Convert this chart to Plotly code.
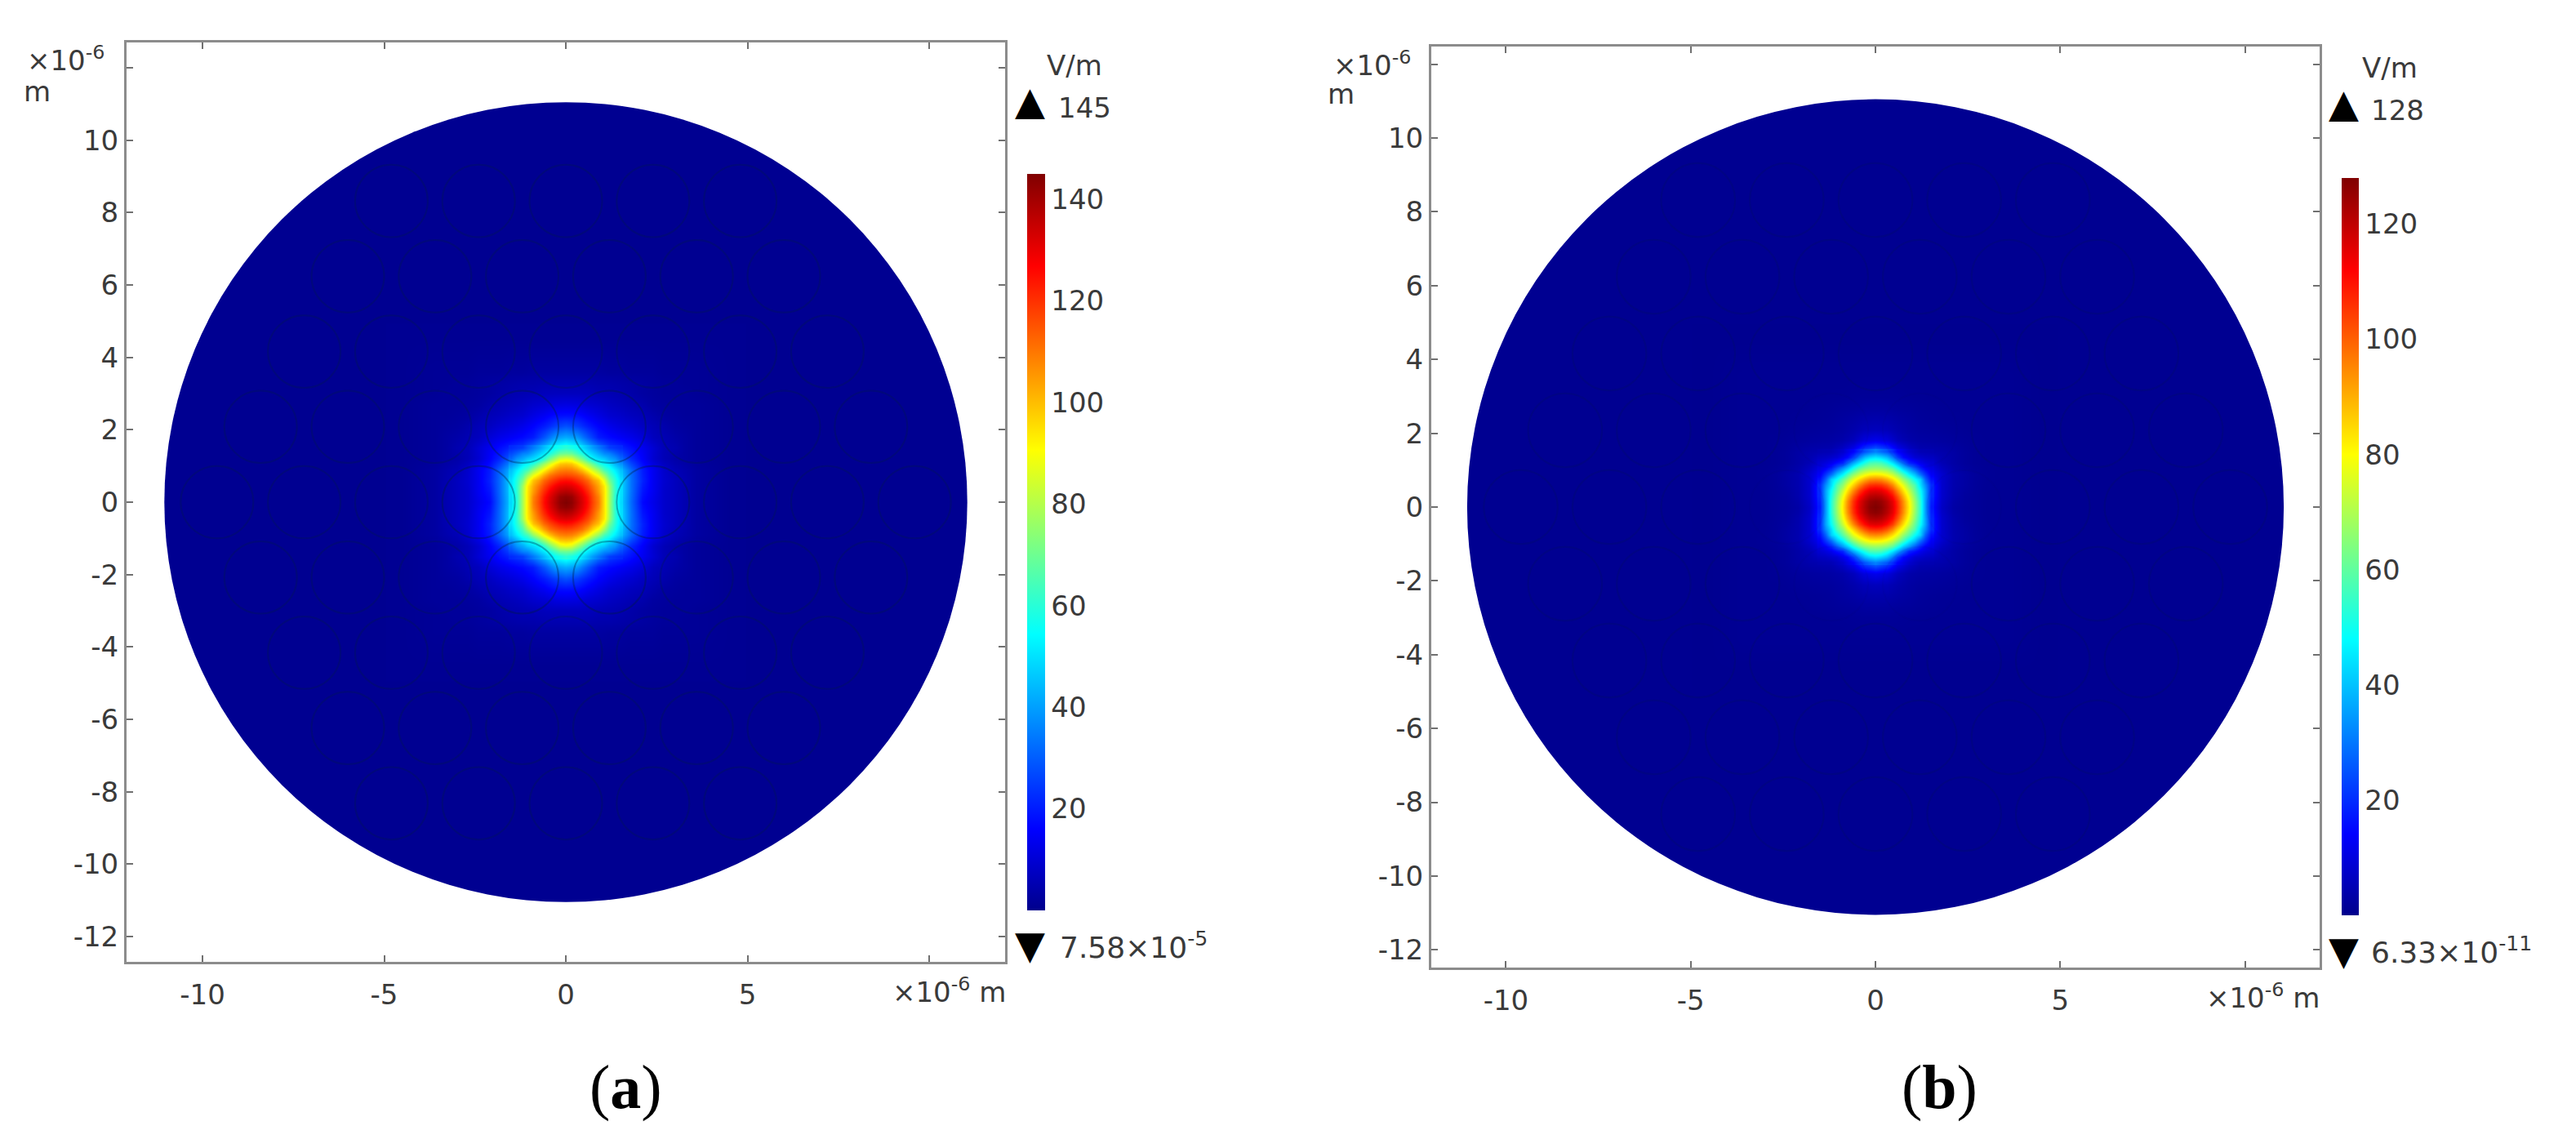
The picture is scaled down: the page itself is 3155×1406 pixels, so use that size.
import numpy as np
import plotly.graph_objects as go

W = 3155
H = 1406

# |E| in V/m on one quadrant (x to the right, y upward, um)
grid_pos = [0, 0.3, 0.6, 0.9, 1.2, 1.5, 1.8, 2.1, 2.4, 2.7, 3.0, 3.3, 3.6, 4.5]

field_a = [
    [145, 138, 125, 109, 78, 49, 32, 17, 13, 9, 7, 5, 3, 1],
    [138, 133, 121, 105, 78, 50, 33, 19, 14, 9, 7, 5, 3, 1],
    [125, 121, 112, 99, 71, 50, 33, 21, 14, 9.5, 7, 5, 3, 1],
    [109, 105, 91, 75, 59, 45, 32, 20, 14, 9, 6, 4.5, 3, 1],
    [88, 79, 61, 50, 42, 32, 22, 15.5, 9.5, 6, 4, 3, 2, 1],
    [60, 55, 44, 34, 25, 22, 18, 14, 10, 6, 5, 3, 2, 1],
    [42, 39, 29, 20, 17, 15, 13, 10.5, 7, 5.5, 4, 3, 2, 1],
    [28, 25, 20, 16, 13, 11, 9.5, 7.5, 6, 4.5, 3, 2.5, 2, 1],
    [18, 17.5, 14.5, 12, 9.5, 8.5, 7, 6, 4.5, 3, 2.5, 2, 2, 1],
    [12, 11.5, 10, 9, 7.5, 6.5, 5.5, 4.5, 3, 2.5, 2, 2, 2, 1],
    [7, 7, 6.7, 6, 5.5, 5, 4, 3, 2.5, 2, 2, 2, 1.5, 1],
    [5, 5, 5, 4.5, 4.5, 4, 3.5, 3, 2.5, 2, 2, 1.5, 1.5, 1],
    [3, 3, 3, 3, 2.5, 2.5, 2, 2, 2, 1.5, 1.5, 1.5, 1.5, 1],
    [1, 1, 1, 1, 1, 1, 1, 1, 1, 1, 1, 1, 1, 1],
]

field_b = [
    [128, 122, 107, 82, 53, 17, 7, 3.2, 2, 1.5, 1, 1, 1, 0.5],
    [122, 117, 102, 78, 51, 19, 8, 4, 2.2, 1.6, 1, 1, 1, 0.5],
    [107, 102, 86, 66, 44, 19.5, 8, 4.2, 2.8, 1.7, 1.1, 1, 1, 0.5],
    [82, 78, 66, 47, 29, 13, 8, 4.3, 2.9, 1.8, 1.2, 1, 1, 0.5],
    [58, 52, 37, 19, 12, 8.5, 5, 3.2, 1.9, 1.3, 1, 1, 1, 0.5],
    [31, 25, 14, 8, 5, 4.5, 4, 3, 1.9, 1.3, 1, 1, 1, 0.5],
    [12, 10, 6, 3.8, 3, 2.7, 2.4, 2, 1.5, 1.2, 1, 1, 1, 0.5],
    [6, 5.5, 4, 2.8, 2.2, 2, 1.8, 1.5, 1.2, 1, 1, 1, 1, 0.5],
    [4, 3.8, 3, 2.4, 1.8, 1.5, 1.3, 1.2, 1, 1, 1, 1, 1, 0.5],
    [2.5, 2.4, 2, 1.8, 1.5, 1.3, 1.2, 1, 1, 1, 1, 1, 1, 0.5],
    [1.5, 1.5, 1.4, 1.2, 1.1, 1, 1, 1, 1, 1, 1, 1, 1, 0.5],
    [1.2, 1.2, 1.1, 1, 1, 1, 1, 1, 1, 1, 1, 1, 1, 0.5],
    [1, 1, 1, 1, 1, 1, 1, 1, 1, 1, 1, 1, 1, 0.5],
    [0.5, 0.5, 0.5, 0.5, 0.5, 0.5, 0.5, 0.5, 0.5, 0.5, 0.5, 0.5, 0.5, 0.5],
]

# finer reading of the hot spot, same quadrant layout
core_pos = [0, 0.15, 0.3, 0.45, 0.6, 0.75, 0.9, 1.05, 1.2, 1.35, 1.5]

core_a = [
    [145, 143, 138, 132, 125, 117, 109, 94, 78, 60, 49],
    [143, 141.5, 136.5, 131, 124, 116, 108, 94, 78, 60, 49.5],
    [138, 136.5, 133, 128, 121, 114, 105, 94, 78, 61, 50],
    [132, 131, 128, 123, 117, 110.5, 103, 93, 77, 61, 50],
    [125, 124, 121, 117, 112, 105, 99, 87, 71, 60, 50],
    [117, 116, 114, 110.5, 103.5, 96, 88.5, 77, 65, 57, 47.5],
    [109, 108, 105, 99, 91, 83.5, 75, 64, 59, 52, 45],
    [100, 99, 94, 86, 77, 69, 60, 55, 51, 44, 38.5],
    [88, 86, 79, 71, 61, 54, 50, 47, 42, 39, 32],
    [70, 69, 64, 58, 51, 47, 42, 37, 35.5, 31, 27],
    [60, 57.5, 55, 49.5, 44, 39, 34, 29.5, 25, 23.5, 22],
]

core_b = [
    [128, 126.5, 122, 116, 107, 95, 82, 68, 53, 35, 17],
    [126.5, 125, 121, 115, 106, 94, 81, 67, 53, 35, 18],
    [122, 121, 117, 111, 102, 90, 78, 65, 51, 36, 19],
    [116, 115, 111, 104.5, 95, 84, 73, 61, 49, 36, 19.2],
    [107, 106, 102, 95, 86, 77, 66, 58, 44, 33, 19.5],
    [95, 94, 90, 84, 77, 67, 59, 49, 42, 27, 16],
    [82, 81, 78, 73, 66, 57, 47, 40, 29, 21, 13],
    [68, 67, 65, 60, 52, 42, 35, 27, 19, 14, 10.7],
    [58, 57, 52, 45, 37, 28, 19, 16, 12, 10, 8.5],
    [45, 43, 39, 31, 22, 15, 12, 9, 8, 7, 6.5],
    [31, 28, 25, 19.5, 14, 11, 8, 6.5, 5, 4.8, 4.5],
]

max_a = 145
max_b = 128
fiber_radius = 11.05
hole_radius = 1.0

# air holes: row height -> hole centres in that row
hole_rows = {
    0: [-9.6, -7.2, -4.8, -2.4, 2.4, 4.8, 7.2, 9.6],
    2.08: [-8.4, -6, -3.6, -1.2, 1.2, 3.6, 6, 8.4],
    4.16: [-7.2, -4.8, -2.4, 0, 2.4, 4.8, 7.2],
    6.24: [-6, -3.6, -1.2, 1.2, 3.6, 6],
    8.32: [-4.8, -2.4, 0, 2.4, 4.8],
}

y_ticks = [-12, -10, -8, -6, -4, -2, 0, 2, 4, 6, 8, 10]
y_labels = ["-12", "-10", "-8", "-6", "-4", "-2", "0", "2", "4", "6", "8", "10"]
x_ticks = [-10, -5, 0, 5]
x_labels = ["-10", "-5", "0", "5"]
bar_ticks_a = [20, 40, 60, 80, 100, 120, 140]
bar_ticks_b = [20, 40, 60, 80, 100, 120]

jet = [
    [0, "#00008c"],
    [0.11, "#0000ff"],
    [0.375, "#00ffff"],
    [0.625, "#ffff00"],
    [0.875, "#ff0000"],
    [1, "#800000"],
]

FONT = "DejaVu Sans"
TEXT = "#3a3a3a"


def full_grid(quadrant):
    q = np.array(quadrant, dtype=float)
    q = np.vstack([q[:0:-1], q])
    return np.hstack([q[:, :0:-1], q]).tolist()


def both_sides(pos):
    return [-p for p in pos[:0:-1]] + pos


fig = go.Figure()


def add_field(quad, core, zmax, xa, ya, bar):
    fig.add_trace(go.Heatmap(
        x=both_sides(grid_pos), y=both_sides(grid_pos), z=full_grid(quad),
        zmin=0, zmax=zmax, zsmooth="best", colorscale=jet,
        xaxis=xa, yaxis=ya, hoverinfo="skip", colorbar=bar,
    ))
    fig.add_trace(go.Heatmap(
        x=both_sides(core_pos), y=both_sides(core_pos), z=full_grid(core),
        zmin=0, zmax=zmax, zsmooth="best", colorscale=jet,
        xaxis=xa, yaxis=ya, hoverinfo="skip", showscale=False,
    ))


add_field(field_a, core_a, max_a, "x", "y", dict(
    x=1258 / W, xanchor="left", xpad=0, y=1 - 213 / H, yanchor="top", ypad=0,
    lenmode="pixels", len=902, thickness=22, thicknessmode="pixels",
    outlinewidth=0, ticks="", tickmode="array", tickvals=bar_ticks_a,
    tickfont=dict(family=FONT, size=34, color=TEXT),
))
add_field(field_b, core_b, max_b, "x2", "y2", dict(
    x=2868 / W, xanchor="left", xpad=0, y=1 - 218 / H, yanchor="top", ypad=0,
    lenmode="pixels", len=903, thickness=21, thicknessmode="pixels",
    outlinewidth=0, ticks="", tickmode="array", tickvals=bar_ticks_b,
    tickfont=dict(family=FONT, size=34, color=TEXT),
))


def add_section(xref, yref, ring_alpha, inner_alpha):
    fig.add_shape(type="circle", xref=xref, yref=yref, layer="below",
                  x0=-fiber_radius, x1=fiber_radius, y0=-fiber_radius, y1=fiber_radius,
                  fillcolor="#000091", line_width=0)
    for row_y, xs in hole_rows.items():
        for hx in xs:
            for hy in {row_y, -row_y}:
                inner = abs(hx) < 3 and abs(hy) < 3
                alpha = inner_alpha if inner else ring_alpha
                fig.add_shape(type="circle", xref=xref, yref=yref, layer="above",
                              x0=hx - hole_radius, x1=hx + hole_radius,
                              y0=hy - hole_radius, y1=hy + hole_radius,
                              line=dict(color=f"rgba(0,30,60,{alpha})", width=2))


add_section("x", "y", 0.25, 0.35)
add_section("x2", "y2", 0.15, 0.04)

axis_style = dict(
    showgrid=False, zeroline=False, showline=True, linecolor="#8c8c8c", linewidth=3,
    mirror="allticks", ticks="inside", ticklen=8, tickwidth=2, tickcolor="#707070",
    tickmode="array", tickfont=dict(family=FONT, size=34, color=TEXT),
)
x_minor = dict(tickmode="array", tickvals=[10], ticks="inside", ticklen=8, tickwidth=2, tickcolor="#707070")
y_minor = dict(tickmode="array", tickvals=[12], ticks="inside", ticklen=8, tickwidth=2, tickcolor="#707070")

fig.update_layout(
    width=W, height=H, margin=dict(l=0, r=0, t=0, b=0),
    paper_bgcolor="white", plot_bgcolor="white", showlegend=False,
    xaxis=dict(domain=[155 / W, 1231 / W], range=[-12.09, 12.09], minor=x_minor,
               tickvals=x_ticks, ticktext=x_labels, ticklabelstandoff=8, anchor="y", **axis_style),
    yaxis=dict(domain=[1 - 1178 / H, 1 - 52 / H], range=[-12.7, 12.7], minor=y_minor,
               tickvals=y_ticks, ticktext=y_labels, anchor="x", **axis_style),
    xaxis2=dict(domain=[1753 / W, 2841 / W], range=[-12.02, 12.02], minor=x_minor,
                tickvals=x_ticks, ticktext=x_labels, ticklabelstandoff=8, anchor="y2", **axis_style),
    yaxis2=dict(domain=[1 - 1185 / H, 1 - 57 / H], range=[-12.48, 12.48], minor=y_minor,
                tickvals=y_ticks, ticktext=y_labels, anchor="x2", **axis_style),
)


def label(px, py, text, size=34, anchor="left", family=FONT, color=TEXT):
    fig.add_annotation(x=px / W, y=1 - py / H, xref="paper", yref="paper", text=text,
                       showarrow=False, xanchor=anchor, yanchor="middle",
                       font=dict(family=family, size=size, color=color), borderpad=0)


# panel a
label(130, 72, "×10<sup>-6</sup>", anchor="right")
label(28, 112, "m")
label(1233, 1213, "×10<sup>-6</sup> m", anchor="right")
label(1316, 80, "V/m", anchor="center")
label(1261, 123, "▲", size=48, anchor="center", color="black")
label(1295, 132, str(max_a))
label(1261, 1157, "▼", size=48, anchor="center", color="black")
label(1297, 1158, "7.58×10<sup>-5</sup>", size=36)
label(766, 1331, "(<b>a</b>)", size=76, anchor="center", family="Liberation Serif", color="black")

# panel b
label(1730, 78, "×10<sup>-6</sup>", anchor="right")
label(1625, 115, "m")
label(2842, 1220, "×10<sup>-6</sup> m", anchor="right")
label(2927, 83, "V/m", anchor="center")
label(2870, 126, "▲", size=48, anchor="center", color="black")
label(2903, 135, str(max_b))
label(2870, 1164, "▼", size=48, anchor="center", color="black")
label(2903, 1164, "6.33×10<sup>-11</sup>", size=36)
label(2375, 1331, "(<b>b</b>)", size=76, anchor="center", family="Liberation Serif", color="black")

fig.write_html("out.html", config={"displayModeBar": False},
               post_script="document.body.style.margin = '0';")
